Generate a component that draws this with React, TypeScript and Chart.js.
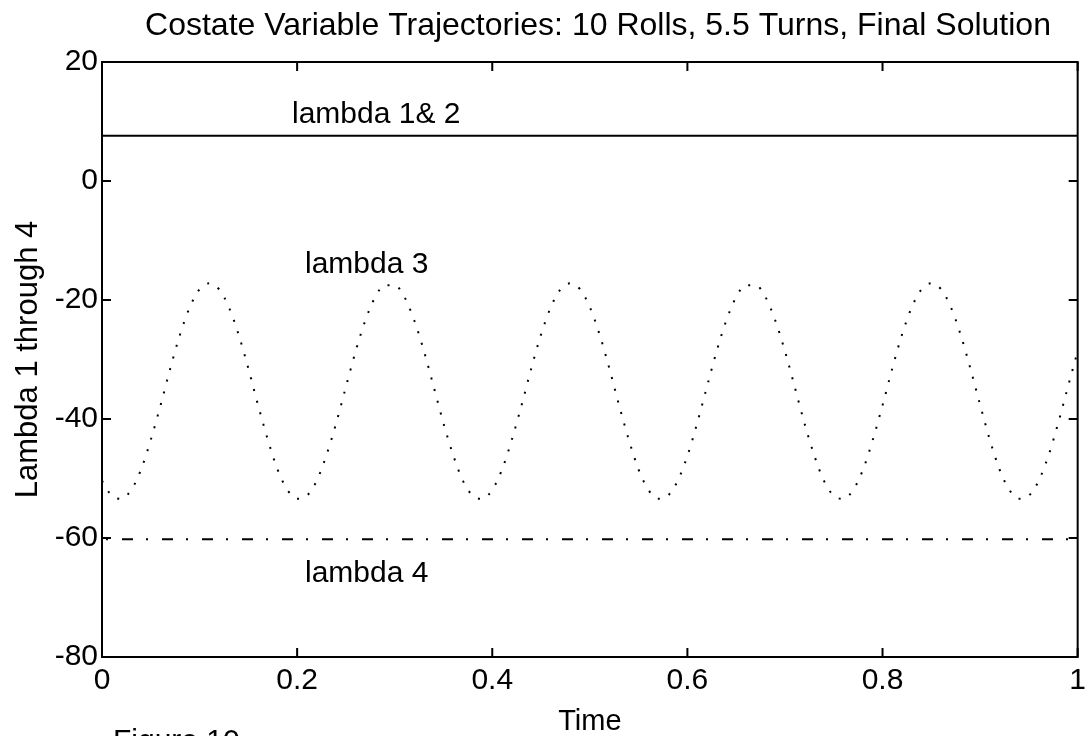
import React, { useEffect, useRef } from "react";
import { Chart, registerables } from "chart.js";

Chart.register(...registerables);

// ---------- data ----------
const titleText = "Costate Variable Trajectories: 10 Rolls, 5.5 Turns, Final Solution";
const xAxisLabel = "Time";
const yAxisLabel = "Lambda 1 through 4";
const figureLabel = "Figure 10";

const xTicks = [0, 0.2, 0.4, 0.6, 0.8, 1];
const yTicks = [-80, -60, -40, -20, 0, 20];

const lambda12Time = [0, 1];
const lambda12 = [7.6, 7.6];

const lambda4Time = [0, 1];
const lambda4 = [-60.2, -60.2];

const lambda3Time = [
  0, 0.01, 0.02, 0.03, 0.04, 0.05, 0.06, 0.07, 0.08, 0.09,
  0.1, 0.11, 0.12, 0.13, 0.14, 0.15, 0.16, 0.17, 0.18, 0.19,
  0.2, 0.21, 0.22, 0.23, 0.24, 0.25, 0.26, 0.27, 0.28, 0.29,
  0.3, 0.31, 0.32, 0.33, 0.34, 0.35, 0.36, 0.37, 0.38, 0.39,
  0.4, 0.41, 0.42, 0.43, 0.44, 0.45, 0.46, 0.47, 0.48, 0.49,
  0.5, 0.51, 0.52, 0.53, 0.54, 0.55, 0.56, 0.57, 0.58, 0.59,
  0.6, 0.61, 0.62, 0.63, 0.64, 0.65, 0.66, 0.67, 0.68, 0.69,
  0.7, 0.71, 0.72, 0.73, 0.74, 0.75, 0.76, 0.77, 0.78, 0.79,
  0.8, 0.81, 0.82, 0.83, 0.84, 0.85, 0.86, 0.87, 0.88, 0.89,
  0.9, 0.91, 0.92, 0.93, 0.94, 0.95, 0.96, 0.97, 0.98, 0.99,
  1,
];
const lambda3 = [
  -50.4, -52.9, -53.4, -51.9, -48.5, -43.5, -37.7, -31.5, -25.8, -21.2,
  -18.2, -17.2, -18.2, -21.2, -25.8, -31.5, -37.7, -43.5, -48.5, -51.9,
  -53.4, -52.9, -50.4, -46.1, -40.7, -34.6, -28.6, -23.4, -19.5, -17.5,
  -17.5, -19.5, -23.4, -28.6, -34.6, -40.7, -46.1, -50.4, -52.9, -53.4,
  -51.9, -48.5, -43.5, -37.7, -31.5, -25.8, -21.2, -18.2, -17.2, -18.2,
  -21.2, -25.8, -31.5, -37.7, -43.5, -48.5, -51.9, -53.4, -52.9, -50.4,
  -46.2, -40.7, -34.6, -28.6, -23.4, -19.5, -17.5, -17.5, -19.5, -23.4,
  -28.6, -34.6, -40.7, -46.1, -50.4, -52.9, -53.4, -51.9, -48.5, -43.5,
  -37.7, -31.5, -25.8, -21.2, -18.2, -17.2, -18.2, -21.2, -25.8, -31.5,
  -37.6, -43.5, -48.5, -51.9, -53.4, -52.9, -50.4, -46.2, -40.7, -34.6,
  -28.6,
];

const seriesLabels = ["lambda 1& 2", "lambda 3", "lambda 4"];

// ---------- styling ----------
const FONT = "'Liberation Sans', Arial, Helvetica, sans-serif";
const W = 1092;
const H = 736;

const toPoints = (xs: number[], ys: number[]) => xs.map((x, i) => ({ x, y: ys[i] }));

const framePlugin = {
  id: "matlabFrame",
  afterDatasetsDraw(chart: any) {
    const { ctx, chartArea, scales } = chart;
    const { left, right, top, bottom } = chartArea;
    const xs = scales.x;
    const ys = scales.y;
    const tl = 9;
    ctx.save();
    ctx.strokeStyle = "#000";
    ctx.lineWidth = 2;
    ctx.beginPath();
    xs.ticks.forEach((t: any) => {
      const px = xs.getPixelForValue(t.value);
      ctx.moveTo(px, bottom);
      ctx.lineTo(px, bottom - tl);
      ctx.moveTo(px, top);
      ctx.lineTo(px, top + tl);
    });
    ys.ticks.forEach((t: any) => {
      const py = ys.getPixelForValue(t.value);
      ctx.moveTo(left, py);
      ctx.lineTo(left + tl, py);
      ctx.moveTo(right, py);
      ctx.lineTo(right - tl, py);
    });
    ctx.stroke();
    ctx.strokeRect(left, top, right - left, bottom - top);
    ctx.restore();
  },
};

const textPlugin = {
  id: "matlabText",
  afterDraw(chart: any) {
    const { ctx, chartArea } = chart;
    const cx = (chartArea.left + chartArea.right) / 2;
    const cy = (chartArea.top + chartArea.bottom) / 2;
    ctx.save();
    ctx.fillStyle = "#000";
    ctx.textBaseline = "alphabetic";

    ctx.font = `32px ${FONT}`;
    ctx.textAlign = "center";
    ctx.fillText(titleText, 598, 35);

    ctx.font = `30px ${FONT}`;
    ctx.textAlign = "left";
    ctx.fillText(seriesLabels[0], 292, 123);
    ctx.fillText(seriesLabels[1], 305, 273);
    ctx.fillText(seriesLabels[2], 305, 582);

    ctx.font = `29px ${FONT}`;
    ctx.textAlign = "center";
    ctx.fillText(xAxisLabel, cx, 730);

    ctx.font = `30px ${FONT}`;
    ctx.textAlign = "left";
    ctx.fillText(figureLabel, 113, 750);

    ctx.save();
    ctx.translate(37, cy);
    ctx.rotate(-Math.PI / 2);
    ctx.font = `31px ${FONT}`;
    ctx.textAlign = "center";
    ctx.fillText(yAxisLabel, 0, 0);
    ctx.restore();

    ctx.restore();
  },
};

export default function App() {
  const ref = useRef<HTMLCanvasElement | null>(null);

  useEffect(() => {
    if (!ref.current) return;
    const chart = new Chart(ref.current, {
      type: "line",
      data: {
        datasets: [
          {
            label: seriesLabels[0],
            data: toPoints(lambda12Time, lambda12),
            borderColor: "#000",
            borderWidth: 2,
            pointRadius: 0,
            fill: false,
          },
          {
            label: seriesLabels[1],
            data: toPoints(lambda3Time, lambda3),
            borderColor: "#000",
            borderWidth: 2,
            borderDash: [2, 10],
            borderCapStyle: "butt",
            pointRadius: 0,
            cubicInterpolationMode: "monotone",
            fill: false,
          },
          {
            label: seriesLabels[2],
            data: toPoints(lambda4Time, lambda4),
            borderColor: "#000",
            borderWidth: 2,
            borderDash: [11, 13, 2, 14],
            borderDashOffset: 20,
            pointRadius: 0,
            fill: false,
          },
        ],
      },
      options: {
        animation: false,
        responsive: false,
        maintainAspectRatio: false,
        layout: { padding: { top: 62, right: 8, left: 0, bottom: 0 } },
        plugins: {
          legend: { display: false },
          title: { display: false },
          tooltip: { enabled: false },
        },
        scales: {
          x: {
            type: "linear",
            min: xTicks[0],
            max: xTicks[xTicks.length - 1],
            afterBuildTicks: (scale: any) => {
              scale.ticks = xTicks.map((v) => ({ value: v }));
            },
            ticks: {
              color: "#000",
              font: { family: FONT, size: 30 },
              padding: 6,
              maxRotation: 0,
              autoSkip: false,
              callback: (v: any) => String(v),
            },
            grid: { display: false, drawTicks: false },
            border: { display: false },
            afterFit: (scale: any) => {
              scale.height = 79;
            },
          },
          y: {
            type: "linear",
            min: yTicks[0],
            max: yTicks[yTicks.length - 1],
            afterBuildTicks: (scale: any) => {
              scale.ticks = yTicks.map((v) => ({ value: v }));
            },
            ticks: {
              color: "#000",
              font: { family: FONT, size: 30 },
              padding: 4,
              autoSkip: false,
              callback: (v: any) => String(v),
            },
            grid: { display: false, drawTicks: false },
            border: { display: false },
            afterFit: (scale: any) => {
              scale.width = 102;
            },
          },
        },
      },
      plugins: [framePlugin, textPlugin],
    });
    return () => chart.destroy();
  }, []);

  return (
    <div style={{ position: "absolute", left: 0, top: 0, width: W, height: H, background: "#fff" }}>
      <canvas ref={ref} width={W} height={H} style={{ display: "block", width: W, height: H }} />
    </div>
  );
}
